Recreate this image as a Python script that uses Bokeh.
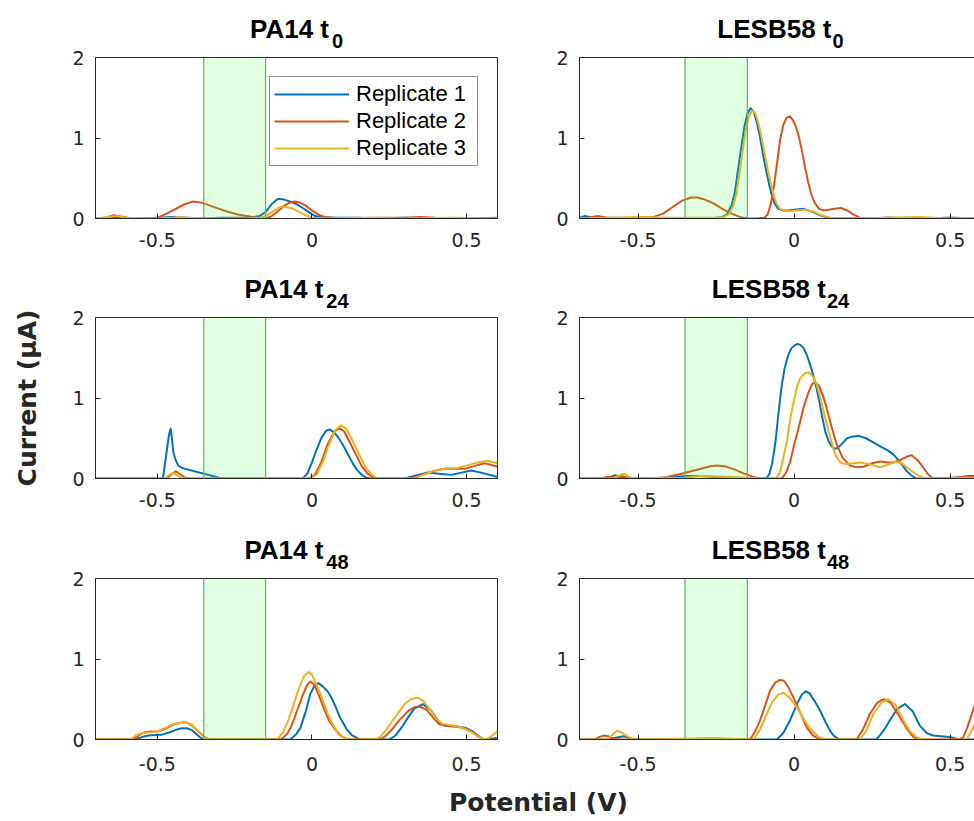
from bokeh.plotting import figure
from bokeh.layouts import row, column
from bokeh.models import (Label, Legend, LegendItem, FixedTicker, LinearAxis,
                          Range1d, Span, BoxAnnotation, Title)
from bokeh.embed import file_html
from bokeh.resources import INLINE

# ---------------- data ----------------
SERIES = ["Replicate 1", "Replicate 2", "Replicate 3"]
STRAINS = ["PA14", "LESB58"]
TIMES = ["0", "24", "48"]
XTICKS = [-0.5, 0, 0.5]
XTICK_LABELS = ["-0.5", "0", "0.5"]
YTICKS = [0, 1, 2]
YTICK_LABELS = ["0", "1", "2"]
BAND = [-0.35, -0.15]
X_LABEL = "Potential (V)"
Y_LABEL = "Current (μA)"

# PA14 t0
pa14_t0_v1 = [-0.7, -0.66, -0.63, -0.6, -0.55, -0.5, -0.45, -0.4, -0.35, -0.3, -0.25, -0.2, -0.17, -0.15, -0.13, -0.11, -0.09, -0.07, -0.05, -0.03, -0.01, 0.01, 0.03, 0.06, 0.1, 0.15, 0.2, 0.3, 0.4, 0.5, 0.6]
pa14_t0_i1 = [0.0, 0.01, 0.02, 0.01, 0.0, 0.01, 0.02, 0.01, 0.0, 0.01, 0.01, 0.01, 0.03, 0.08, 0.18, 0.245, 0.235, 0.21, 0.18, 0.13, 0.08, 0.03, 0.015, 0.01, 0.01, 0.01, 0.0, 0.01, 0.0, 0.0, 0.0]
pa14_t0_v2 = [-0.7, -0.67, -0.64, -0.61, -0.58, -0.54, -0.5, -0.47, -0.44, -0.41, -0.385, -0.36, -0.33, -0.3, -0.27, -0.24, -0.21, -0.18, -0.15, -0.13, -0.11, -0.09, -0.07, -0.055, -0.04, -0.02, 0.0, 0.02, 0.04, 0.07, 0.1, 0.2, 0.3, 0.35, 0.4, 0.5, 0.6]
pa14_t0_i2 = [0.0, 0.01, 0.04, 0.02, 0.0, 0.0, 0.01, 0.06, 0.12, 0.18, 0.21, 0.2, 0.16, 0.12, 0.08, 0.05, 0.03, 0.01, 0.0, 0.03, 0.09, 0.16, 0.2, 0.21, 0.2, 0.16, 0.1, 0.05, 0.02, 0.01, 0.0, 0.01, 0.01, 0.02, 0.01, 0.0, 0.01]
pa14_t0_v3 = [-0.7, -0.66, -0.63, -0.6, -0.5, -0.45, -0.43, -0.4, -0.3, -0.2, -0.17, -0.15, -0.13, -0.11, -0.095, -0.08, -0.06, -0.04, -0.02, 0.0, 0.05, 0.15, 0.3, 0.45, 0.6]
pa14_t0_i3 = [0.0, 0.02, 0.03, 0.01, 0.0, 0.01, 0.02, 0.01, 0.0, 0.0, 0.01, 0.03, 0.08, 0.13, 0.15, 0.14, 0.12, 0.08, 0.04, 0.01, 0.0, 0.01, 0.0, 0.01, 0.0]

# LESB58 t0
lesb_t0_v1 = [-0.7, -0.67, -0.64, -0.6, -0.5, -0.4, -0.3, -0.25, -0.23, -0.215, -0.2, -0.19, -0.18, -0.17, -0.16, -0.15, -0.14, -0.13, -0.12, -0.11, -0.1, -0.09, -0.08, -0.07, -0.06, -0.05, -0.035, -0.02, 0.0, 0.03, 0.06, 0.09, 0.12, 0.2, 0.3, 0.4, 0.5, 0.6]
lesb_t0_i1 = [0.0, 0.03, 0.0, 0.01, 0.0, 0.0, 0.0, 0.01, 0.02, 0.05, 0.17, 0.33, 0.6, 0.87, 1.13, 1.3, 1.37, 1.33, 1.2, 1.02, 0.8, 0.6, 0.42, 0.26, 0.17, 0.12, 0.1, 0.1, 0.11, 0.12, 0.08, 0.03, 0.0, 0.0, 0.01, 0.0, 0.01, 0.0]
lesb_t0_v2 = [-0.7, -0.66, -0.63, -0.6, -0.55, -0.5, -0.45, -0.42, -0.39, -0.36, -0.33, -0.31, -0.29, -0.26, -0.23, -0.2, -0.175, -0.15, -0.12, -0.095, -0.085, -0.075, -0.065, -0.055, -0.045, -0.035, -0.025, -0.015, -0.005, 0.005, 0.015, 0.025, 0.035, 0.045, 0.055, 0.065, 0.08, 0.095, 0.11, 0.13, 0.15, 0.17, 0.19, 0.21, 0.25, 0.3, 0.4, 0.5, 0.6]
lesb_t0_i2 = [0.0, 0.01, 0.03, 0.01, 0.0, 0.01, 0.02, 0.06, 0.14, 0.22, 0.26, 0.26, 0.24, 0.19, 0.12, 0.06, 0.02, 0.0, 0.0, 0.01, 0.05, 0.18, 0.4, 0.68, 0.98, 1.16, 1.25, 1.27, 1.23, 1.15, 1.02, 0.84, 0.63, 0.45, 0.3, 0.2, 0.12, 0.1, 0.11, 0.12, 0.13, 0.1, 0.05, 0.01, 0.0, 0.01, 0.0, 0.01, 0.0]
lesb_t0_v3 = [-0.7, -0.6, -0.5, -0.4, -0.3, -0.25, -0.225, -0.21, -0.195, -0.185, -0.175, -0.165, -0.155, -0.145, -0.135, -0.125, -0.115, -0.105, -0.095, -0.085, -0.075, -0.065, -0.055, -0.045, -0.03, -0.015, 0.005, 0.035, 0.065, 0.095, 0.125, 0.2, 0.3, 0.4, 0.5, 0.6]
lesb_t0_i3 = [0.0, 0.01, 0.02, 0.01, 0.01, 0.01, 0.02, 0.05, 0.16, 0.31, 0.57, 0.84, 1.1, 1.27, 1.34, 1.31, 1.19, 1.02, 0.81, 0.62, 0.44, 0.28, 0.18, 0.12, 0.1, 0.09, 0.1, 0.11, 0.08, 0.03, 0.0, 0.0, 0.01, 0.02, 0.0, 0.01]

# PA14 t24
pa14_t24_v1 = [-0.7, -0.6, -0.5, -0.49, -0.482, -0.471, -0.462, -0.457, -0.453, -0.448, -0.44, -0.432, -0.42, -0.4, -0.38, -0.36, -0.33, -0.3, -0.28, -0.2, -0.1, -0.03, -0.015, 0.0, 0.015, 0.03, 0.045, 0.057, 0.07, 0.085, 0.1, 0.115, 0.13, 0.145, 0.16, 0.175, 0.19, 0.25, 0.3, 0.34, 0.376, 0.41, 0.451, 0.48, 0.515, 0.55, 0.59, 0.6]
pa14_t24_i1 = [0.0, 0.0, 0.0, 0.0, 0.0, 0.3, 0.55, 0.62, 0.5, 0.32, 0.22, 0.16, 0.13, 0.11, 0.09, 0.07, 0.04, 0.01, 0.0, 0.0, 0.0, 0.0, 0.06, 0.2, 0.36, 0.5, 0.59, 0.61, 0.58, 0.51, 0.42, 0.31, 0.2, 0.11, 0.05, 0.01, 0.0, 0.0, 0.0, 0.04, 0.075, 0.06, 0.045, 0.07, 0.1, 0.07, 0.03, 0.02]
pa14_t24_v2 = [-0.7, -0.5, -0.47, -0.455, -0.44, -0.425, -0.41, -0.39, -0.2, -0.01, 0.01, 0.03, 0.05, 0.07, 0.088, 0.105, 0.12, 0.142, 0.16, 0.18, 0.2, 0.215, 0.25, 0.32, 0.36, 0.4, 0.43, 0.46, 0.494, 0.53, 0.558, 0.6]
pa14_t24_i2 = [0.0, 0.0, 0.0, 0.05, 0.09, 0.05, 0.01, 0.0, 0.0, 0.0, 0.05, 0.2, 0.42, 0.57, 0.63, 0.58, 0.47, 0.3, 0.16, 0.06, 0.01, 0.0, 0.0, 0.0, 0.05, 0.1, 0.12, 0.12, 0.12, 0.16, 0.19, 0.15]
pa14_t24_v3 = [-0.7, -0.5, -0.475, -0.46, -0.45, -0.435, -0.42, -0.2, -0.005, 0.015, 0.035, 0.055, 0.075, 0.094, 0.11, 0.13, 0.152, 0.17, 0.19, 0.21, 0.25, 0.33, 0.37, 0.41, 0.43, 0.47, 0.5, 0.536, 0.568, 0.6]
pa14_t24_i3 = [0.0, 0.0, 0.0, 0.05, 0.07, 0.04, 0.0, 0.0, 0.0, 0.05, 0.2, 0.42, 0.6, 0.66, 0.62, 0.48, 0.3, 0.16, 0.06, 0.0, 0.0, 0.0, 0.06, 0.11, 0.125, 0.13, 0.16, 0.2, 0.22, 0.19]

# LESB58 t24
lesb_t24_v1 = [-0.7, -0.6, -0.59, -0.573, -0.555, -0.5, -0.4, -0.35, -0.3, -0.25, -0.2, -0.12, -0.09, -0.08, -0.07, -0.06, -0.05, -0.04, -0.03, -0.02, -0.01, 0.0, 0.01, 0.02, 0.03, 0.04, 0.05, 0.06, 0.07, 0.08, 0.09, 0.1, 0.11, 0.12, 0.13, 0.14, 0.155, 0.17, 0.185, 0.206, 0.23, 0.254, 0.28, 0.3, 0.318, 0.34, 0.36, 0.375, 0.39, 0.45, 0.52, 0.56, 0.58]
lesb_t24_i1 = [0.0, 0.0, 0.02, 0.04, 0.01, 0.0, 0.01, 0.03, 0.03, 0.02, 0.01, 0.0, 0.0, 0.05, 0.2, 0.45, 0.82, 1.15, 1.38, 1.52, 1.61, 1.65, 1.67, 1.66, 1.62, 1.54, 1.43, 1.3, 1.15, 0.97, 0.76, 0.58, 0.47, 0.4, 0.37, 0.38, 0.44, 0.5, 0.52, 0.53, 0.5, 0.45, 0.39, 0.35, 0.3, 0.2, 0.095, 0.04, 0.0, 0.0, 0.01, 0.03, 0.03]
lesb_t24_v2 = [-0.7, -0.62, -0.6, -0.57, -0.55, -0.53, -0.45, -0.407, -0.37, -0.33, -0.29, -0.265, -0.242, -0.22, -0.19, -0.16, -0.13, -0.109, -0.039, -0.025, -0.012, -0.002, 0.015, 0.03, 0.045, 0.057, 0.067, 0.08, 0.092, 0.104, 0.12, 0.136, 0.155, 0.179, 0.2, 0.222, 0.25, 0.275, 0.3, 0.318, 0.34, 0.36, 0.376, 0.395, 0.413, 0.43, 0.445, 0.5, 0.55, 0.58]
lesb_t24_i2 = [0.0, 0.0, 0.02, 0.01, 0.03, 0.0, 0.0, 0.02, 0.05, 0.09, 0.13, 0.155, 0.16, 0.15, 0.11, 0.06, 0.02, 0.0, 0.0, 0.08, 0.22, 0.39, 0.64, 0.88, 1.06, 1.17, 1.2, 1.15, 1.03, 0.88, 0.64, 0.43, 0.26, 0.16, 0.14, 0.145, 0.19, 0.21, 0.2, 0.2, 0.23, 0.27, 0.29, 0.23, 0.14, 0.05, 0.0, 0.01, 0.02, 0.02]
lesb_t24_v3 = [-0.7, -0.58, -0.56, -0.546, -0.53, -0.51, -0.35, -0.3, -0.2, -0.1, -0.06, -0.045, -0.035, -0.023, -0.01, 0.0085, 0.02, 0.035, 0.046, 0.06, 0.072, 0.085, 0.095, 0.104, 0.118, 0.131, 0.142, 0.152, 0.17, 0.19, 0.211, 0.24, 0.275, 0.3, 0.328, 0.345, 0.36, 0.385, 0.413, 0.45, 0.58]
lesb_t24_i3 = [0.0, 0.0, 0.04, 0.06, 0.02, 0.0, 0.01, 0.03, 0.02, 0.0, 0.0, 0.08, 0.25, 0.47, 0.8, 1.13, 1.25, 1.31, 1.32, 1.27, 1.17, 0.98, 0.82, 0.68, 0.48, 0.3, 0.23, 0.19, 0.18, 0.19, 0.2, 0.18, 0.14, 0.17, 0.21, 0.19, 0.14, 0.07, 0.01, 0.0, 0.01]

# PA14 t48
pa14_t48_v1 = [-0.7, -0.58, -0.571, -0.55, -0.528, -0.5, -0.485, -0.46, -0.44, -0.42, -0.405, -0.39, -0.375, -0.36, -0.345, -0.2, -0.07, -0.05, -0.037, -0.02, -0.005, 0.01, 0.021, 0.035, 0.05, 0.059, 0.075, 0.09, 0.112, 0.13, 0.155, 0.25, 0.27, 0.29, 0.305, 0.33, 0.358, 0.385, 0.412, 0.43, 0.444, 0.47, 0.497, 0.52, 0.54, 0.556, 0.575, 0.6]
pa14_t48_i1 = [0.0, 0.0, 0.0, 0.03, 0.05, 0.06, 0.06, 0.09, 0.12, 0.14, 0.14, 0.12, 0.07, 0.02, 0.0, 0.0, 0.0, 0.07, 0.15, 0.35, 0.57, 0.68, 0.7, 0.66, 0.6, 0.55, 0.42, 0.28, 0.13, 0.05, 0.0, 0.0, 0.05, 0.15, 0.24, 0.38, 0.44, 0.36, 0.21, 0.17, 0.165, 0.16, 0.145, 0.1, 0.04, 0.0, 0.01, 0.02]
pa14_t48_v2 = [-0.7, -0.575, -0.56, -0.542, -0.52, -0.499, -0.47, -0.445, -0.42, -0.405, -0.39, -0.37, -0.348, -0.33, -0.1, -0.08, -0.065, -0.048, -0.03, -0.015, -0.005, 0.008, 0.022, 0.037, 0.055, 0.072, 0.091, 0.11, 0.13, 0.22, 0.24, 0.26, 0.283, 0.31, 0.33, 0.348, 0.37, 0.39, 0.412, 0.44, 0.465, 0.49, 0.519, 0.54, 0.556, 0.6]
pa14_t48_i2 = [0.0, 0.0, 0.05, 0.09, 0.1, 0.1, 0.14, 0.19, 0.21, 0.21, 0.18, 0.11, 0.03, 0.0, 0.0, 0.07, 0.18, 0.36, 0.55, 0.68, 0.72, 0.68, 0.55, 0.4, 0.24, 0.14, 0.05, 0.01, 0.0, 0.0, 0.05, 0.13, 0.24, 0.35, 0.4, 0.41, 0.37, 0.28, 0.19, 0.17, 0.165, 0.14, 0.09, 0.03, 0.0, 0.0]
pa14_t48_v3 = [-0.7, -0.585, -0.57, -0.55, -0.52, -0.499, -0.47, -0.45, -0.433, -0.41, -0.39, -0.37, -0.348, -0.33, -0.112, -0.095, -0.075, -0.059, -0.04, -0.025, -0.011, 0.0, 0.015, 0.027, 0.045, 0.06, 0.08, 0.1, 0.115, 0.205, 0.22, 0.24, 0.26, 0.273, 0.3, 0.32, 0.342, 0.36, 0.38, 0.401, 0.42, 0.444, 0.47, 0.497, 0.52, 0.545, 0.562, 0.58, 0.6]
pa14_t48_i3 = [0.0, 0.0, 0.05, 0.08, 0.09, 0.1, 0.15, 0.19, 0.2, 0.21, 0.19, 0.11, 0.02, 0.0, 0.0, 0.08, 0.25, 0.44, 0.66, 0.79, 0.84, 0.8, 0.68, 0.57, 0.38, 0.24, 0.11, 0.03, 0.0, 0.0, 0.03, 0.12, 0.23, 0.3, 0.44, 0.5, 0.52, 0.48, 0.38, 0.26, 0.2, 0.18, 0.165, 0.13, 0.08, 0.02, 0.0, 0.04, 0.1]

# LESB58 t48
lesb_t48_v1 = [-0.7, -0.6, -0.56, -0.546, -0.53, -0.51, -0.2, -0.055, -0.035, -0.013, 0.01, 0.025, 0.037, 0.05, 0.065, 0.083, 0.1, 0.115, 0.126, 0.145, 0.264, 0.285, 0.307, 0.33, 0.355, 0.38, 0.403, 0.425, 0.445, 0.47, 0.5, 0.52, 0.54, 0.58]
lesb_t48_i1 = [0.0, 0.0, 0.03, 0.04, 0.02, 0.0, 0.0, 0.0, 0.08, 0.24, 0.45, 0.56, 0.6, 0.57, 0.48, 0.36, 0.22, 0.11, 0.05, 0.0, 0.0, 0.1, 0.24, 0.38, 0.44, 0.35, 0.17, 0.08, 0.05, 0.04, 0.03, 0.01, 0.0, 0.0]
lesb_t48_v2 = [-0.7, -0.64, -0.625, -0.61, -0.595, -0.58, -0.56, -0.35, -0.3, -0.2, -0.141, -0.125, -0.109, -0.093, -0.077, -0.06, -0.045, -0.033, -0.02, -0.002, 0.02, 0.04, 0.06, 0.083, 0.2, 0.22, 0.243, 0.265, 0.28, 0.291, 0.31, 0.339, 0.36, 0.382, 0.4, 0.52, 0.541, 0.555, 0.58]
lesb_t48_i2 = [0.0, 0.0, 0.03, 0.05, 0.04, 0.01, 0.0, 0.0, 0.01, 0.0, 0.0, 0.1, 0.24, 0.42, 0.61, 0.71, 0.74, 0.73, 0.66, 0.52, 0.33, 0.15, 0.05, 0.0, 0.0, 0.12, 0.32, 0.45, 0.49, 0.5, 0.45, 0.28, 0.14, 0.03, 0.0, 0.0, 0.02, 0.15, 0.44]
lesb_t48_v3 = [-0.7, -0.6, -0.585, -0.567, -0.55, -0.53, -0.51, -0.35, -0.25, -0.15, -0.13, -0.11, -0.087, -0.07, -0.05, -0.034, -0.015, 0.0085, 0.03, 0.045, 0.062, 0.08, 0.1, 0.21, 0.23, 0.254, 0.28, 0.302, 0.325, 0.35, 0.37, 0.392, 0.41, 0.552, 0.565, 0.58]
lesb_t48_i3 = [0.0, 0.0, 0.05, 0.11, 0.08, 0.03, 0.0, 0.01, 0.02, 0.0, 0.0, 0.12, 0.32, 0.47, 0.56, 0.58, 0.52, 0.4, 0.26, 0.17, 0.09, 0.03, 0.0, 0.0, 0.1, 0.32, 0.46, 0.5, 0.43, 0.24, 0.11, 0.03, 0.0, 0.0, 0.08, 0.2]

PANEL_DATA = [
    [[(pa14_t0_v1, pa14_t0_i1), (pa14_t0_v2, pa14_t0_i2), (pa14_t0_v3, pa14_t0_i3)],
     [(lesb_t0_v1, lesb_t0_i1), (lesb_t0_v2, lesb_t0_i2), (lesb_t0_v3, lesb_t0_i3)]],
    [[(pa14_t24_v1, pa14_t24_i1), (pa14_t24_v2, pa14_t24_i2), (pa14_t24_v3, pa14_t24_i3)],
     [(lesb_t24_v1, lesb_t24_i1), (lesb_t24_v2, lesb_t24_i2), (lesb_t24_v3, lesb_t24_i3)]],
    [[(pa14_t48_v1, pa14_t48_i1), (pa14_t48_v2, pa14_t48_i2), (pa14_t48_v3, pa14_t48_i3)],
     [(lesb_t48_v1, lesb_t48_i1), (lesb_t48_v2, lesb_t48_i2), (lesb_t48_v3, lesb_t48_i3)]],
]
for rr in PANEL_DATA:
    for cc in rr:
        for v, i in cc:
            assert len(v) == len(i), (len(v), len(i))

# ---------------- style / layout ----------------
COLORS = ["#0072BD", "#D95319", "#EDB120"]
INK = "#262626"
FONT_T = "Liberation Sans"
FONT_A = "DejaVu Sans"
ARIAL_BOLD = {"P": 667, "A": 722, "1": 556, "4": 556, " ": 278, "t": 333,
              "L": 611, "E": 667, "S": 667, "B": 722, "5": 556, "8": 556,
              "0": 556, "2": 556}
PAGE_W = 974
TOP_B = 57
ROW_BOTTOM = [42, 43, 41]
FRAME_H = 161
FRAME_LEFT = [95, 579]
TITLE_CX = [296, 780]
SUB_STANDOFF = 19
MAIN_STANDOFF = -42
BASE_FIX = 0.36  # Label text is drawn ~0.36em lower than the requested baseline


def text_w(s, size):
    return sum(ARIAL_BOLD[ch] for ch in s) * size / 1000.0


def blank(width, height):
    f = figure(width=width, height=height, x_range=Range1d(0, width),
               y_range=Range1d(0, height), min_border=0,
               x_axis_location=None, y_axis_location=None,
               outline_line_color=None, toolbar_location=None,
               output_backend="svg", background_fill_color="white",
               border_fill_color="white")
    f.grid.visible = False
    return f


def make_panel(curves, col, r):
    left = col == 0
    x_rng = (-0.7, 0.6) if left else (-0.688, 0.578)
    h = TOP_B + FRAME_H + ROW_BOTTOM[r]
    p = figure(width=499 if left else 475, height=h,
               x_range=Range1d(*x_rng), y_range=Range1d(0, 2),
               min_border_left=95 if left else 80,
               min_border_right=2 if left else 0,
               min_border_top=TOP_B, min_border_bottom=ROW_BOTTOM[r],
               toolbar_location=None, output_backend="svg",
               background_fill_color="white", border_fill_color="white",
               outline_line_color=INK if left else None, outline_line_width=1)
    p.xgrid.visible = False
    p.ygrid.visible = False
    for ax in (p.xaxis[0], p.yaxis[0]):
        ax.axis_line_color = INK
        ax.axis_line_width = 1
        ax.major_tick_line_color = INK
        ax.minor_tick_line_color = None
        ax.major_tick_in = 5
        ax.major_tick_out = 0
        ax.major_label_text_font = FONT_A
        ax.major_label_text_font_size = "19px"
        ax.major_label_text_color = INK
    p.xaxis.ticker = FixedTicker(ticks=XTICKS)
    p.xaxis.major_label_overrides = dict(zip(XTICKS, XTICK_LABELS))
    p.xaxis.major_label_standoff = 17 if r == 2 else 14
    p.yaxis.ticker = FixedTicker(ticks=YTICKS)
    p.yaxis.major_label_overrides = dict(zip(YTICKS, YTICK_LABELS))
    p.yaxis.major_label_standoff = 11
    if not left:
        top = LinearAxis(ticker=FixedTicker(ticks=[]), axis_line_color=INK,
                         major_tick_line_color=None, minor_tick_line_color=None,
                         major_tick_in=0, major_tick_out=0,
                         major_label_standoff=0,
                         major_label_text_font_size="0px")
        p.add_layout(top, "above")

    # title "STRAIN t" with a subscript time, as two stacked titles
    main = f"{STRAINS[col]} t"
    sub = TIMES[r]
    wm = text_w(main, 26)
    ws = text_w(sub, 20)
    x0 = TITLE_CX[col] - (wm + 1 + ws) / 2 - FRAME_LEFT[col]
    p.add_layout(Title(text=sub, align="left", offset=x0 + wm + 1,
                       vertical_align="bottom", standoff=SUB_STANDOFF,
                       text_font=FONT_T, text_font_style="bold",
                       text_font_size="20px", text_color="black"), "above")
    p.add_layout(Title(text=main, align="left", offset=x0,
                       vertical_align="bottom", standoff=MAIN_STANDOFF,
                       text_font=FONT_T, text_font_style="bold",
                       text_font_size="26px", text_color="black"), "above")

    rs = []
    for (v, i), c in zip(curves, COLORS):
        rs.append(p.line(v, i, line_color=c, line_width=2, line_join="round"))

    p.add_layout(BoxAnnotation(left=BAND[0], right=BAND[1], fill_color="#33FF33",
                               fill_alpha=0.15, line_color=None))
    for b in BAND:
        p.add_layout(Span(location=b, dimension="height", line_color="#5CBF5C",
                          line_width=1.3))

    if left and r == 0:
        leg = Legend(items=[LegendItem(label=s, renderers=[rr]) for s, rr in zip(SERIES, rs)],
                     location="top_right", margin=19, padding=4, spacing=1,
                     label_standoff=7, glyph_width=75, glyph_height=20,
                     label_height=20, label_width=117, label_text_font=FONT_T,
                     label_text_font_size="22px", label_text_color="black",
                     border_line_color=INK, border_line_width=1,
                     background_fill_color="white", background_fill_alpha=1.0)
        p.add_layout(leg)
    if left and r == 1:
        p.yaxis.axis_label = Y_LABEL
        p.yaxis.axis_label_text_font = FONT_A
        p.yaxis.axis_label_text_font_style = "bold"
        p.yaxis.axis_label_text_font_size = "25px"
        p.yaxis.axis_label_text_color = INK
        p.yaxis.axis_label_standoff = 27
    return p


items = []
for r in range(3):
    items.append(row(*[make_panel(PANEL_DATA[r][c], c, r) for c in range(2)]))

xl = blank(PAGE_W, 41)
xl.add_layout(Label(x=538, y=10 + BASE_FIX * 25, text=X_LABEL, text_align="center",
                    text_baseline="alphabetic", text_font=FONT_A,
                    text_font_style="bold", text_font_size="25px", text_color=INK))
items.append(xl)

layout = column(*items)
open("out.html", "w").write(file_html(layout, INLINE))
